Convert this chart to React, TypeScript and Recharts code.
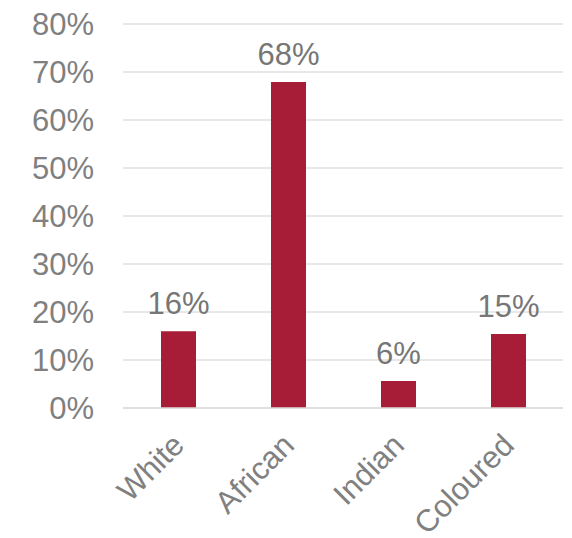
import React from 'react';
import { BarChart, Bar, XAxis, YAxis, CartesianGrid, LabelList } from 'recharts';

const categories = ['White', 'African', 'Indian', 'Coloured'];
const shares = [0.16, 0.679, 0.056, 0.154];
const yTicks = [0, 0.1, 0.2, 0.3, 0.4, 0.5, 0.6, 0.7, 0.8];

const data = categories.map((name, i) => ({ name, value: shares[i] }));

const FONT = '"Liberation Sans", Arial, sans-serif';
const GRAY = '#808080';

const pct = (v: number) => `${Math.round(v * 100)}%`;

const XTick = (props: any) => {
  const { x, y, payload } = props;
  const tx = x + 8;
  const ty = y + 31;
  return (
    <text
      x={tx}
      y={ty}
      transform={`rotate(-45, ${tx}, ${ty})`}
      textAnchor="end"
      fill={GRAY}
      fontSize={31}
      fontFamily={FONT}
    >
      {payload.value}
    </text>
  );
};

export default function App() {
  return (
    <div style={{ position: 'absolute', left: 0, top: 0 }}>
      <BarChart
        width={572}
        height={538}
        data={data}
        margin={{ top: 24, right: 9, bottom: 0, left: 0 }}
      >
        <CartesianGrid vertical={false} stroke="#e0e0e0" strokeWidth={1.5} />
        <XAxis
          dataKey="name"
          height={130}
          interval={0}
          tickLine={false}
          axisLine={{ stroke: '#dcdcdc', strokeWidth: 1.5 }}
          tick={<XTick />}
        />
        <YAxis
          width={123}
          domain={[0, 0.8]}
          ticks={yTicks}
          tickFormatter={pct}
          axisLine={false}
          tickLine={false}
          tickSize={0}
          tickMargin={29}
          tick={{ fill: GRAY, fontSize: 31, fontFamily: FONT }}
        />
        <Bar dataKey="value" fill="#a71c37" barSize={35} isAnimationActive={false}>
          <LabelList
            dataKey="value"
            position="top"
            offset={17}
            formatter={(v: any) => pct(Number(v))}
            fill="#767676"
            fontSize={31}
            fontFamily={FONT}
          />
        </Bar>
      </BarChart>
    </div>
  );
}
